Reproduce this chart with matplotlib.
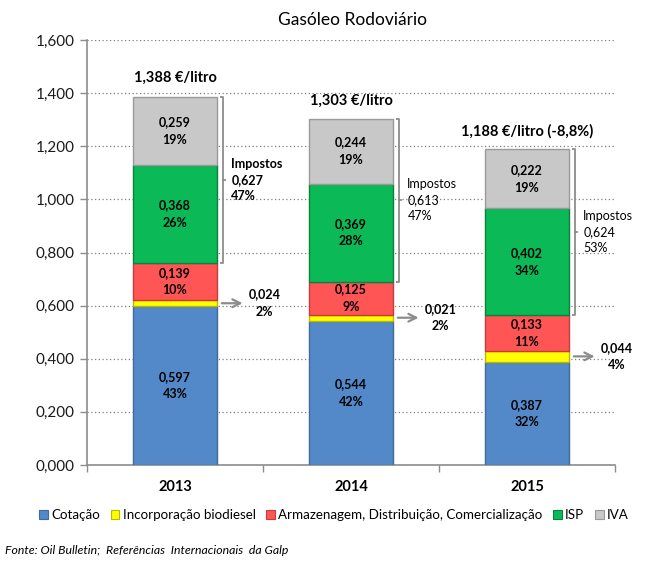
import matplotlib
matplotlib.use("Agg")
import matplotlib.pyplot as plt
from matplotlib.patches import Patch
from matplotlib.ticker import FuncFormatter, FixedLocator
import numpy as np

plt.rcParams['font.family'] = ['Lato', 'DejaVu Sans']

years = ['2013', '2014', '2015']
series_names = ['Cotação', 'Incorporação biodiesel',
                'Armazenagem, Distribuição, Comercialização', 'ISP', 'IVA']
cotacao = [0.597, 0.544, 0.387]
biodiesel = [0.024, 0.021, 0.044]
armazenagem = [0.139, 0.125, 0.133]
isp = [0.368, 0.369, 0.402]
iva = [0.259, 0.244, 0.222]
pct_cotacao = ['43%', '42%', '32%']
pct_biodiesel = ['2%', '2%', '4%']
pct_armazenagem = ['10%', '9%', '11%']
pct_isp = ['26%', '28%', '34%']
pct_iva = ['19%', '19%', '19%']
impostos = [0.627, 0.613, 0.624]
pct_impostos = ['47%', '47%', '53%']
totals = [1.388, 1.303, 1.188]
total_labels = ['1,388 €/litro', '1,303 €/litro', '1,188 €/litro (-8,8%)']
yticks = [0.0, 0.2, 0.4, 0.6, 0.8, 1.0, 1.2, 1.4, 1.6]

colors = ['#5489C9', '#FFFF00', '#FF5555', '#0BB957', '#C8C8C8']
edges = ['#3F6A9E', '#B8B800', '#C43C3C', '#07833D', '#9A9A9A']

def fmt(v):
    return f'{v:.3f}'.replace('.', ',')

fig = plt.figure(figsize=(6.66, 5.65), dpi=100)
ax = fig.add_axes([87/666, 1-465/565, (615-87)/666, 425/565])

x = np.arange(len(years))
w = 0.48
series = [cotacao, biodiesel, armazenagem, isp, iva]
pcts = [pct_cotacao, pct_biodiesel, pct_armazenagem, pct_isp, pct_iva]
bottom = np.zeros(len(years))
for i, (vals, pl) in enumerate(zip(series, pcts)):
    vals = np.array(vals)
    ax.bar(x, vals, w, bottom=bottom, color=colors[i], edgecolor=edges[i],
           linewidth=1.0, zorder=3)
    for j in range(len(years)):
        mid = bottom[j] + vals[j] / 2
        if i == 1:
            ax.annotate('', xy=(x[j] + 0.40, mid), xytext=(x[j] + 0.25, mid),
                        arrowprops=dict(arrowstyle='->', color='#8C8C8C', lw=1.6,
                                        mutation_scale=14), zorder=4)
            ax.text(x[j] + 0.51, mid, fmt(vals[j]) + '\n' + pl[j], ha='center',
                    va='center', fontsize=9, fontweight='bold', linespacing=1.55,
                    zorder=5)
        else:
            ax.text(x[j], mid, fmt(vals[j]) + '\n' + pl[j], ha='center', va='center',
                    fontsize=9, fontweight='bold', linespacing=1.55, zorder=5)
    bottom = bottom + vals

# brackets for Impostos
for j in range(len(years)):
    y0 = cotacao[j] + biodiesel[j] + armazenagem[j]
    y1 = y0 + isp[j] + iva[j]
    bx = x[j] + 0.27
    ax.plot([bx - 0.015, bx, bx, bx - 0.015], [y0, y0, y1, y1],
            color='#8C8C8C', lw=1.3, zorder=4, solid_capstyle='butt')
    ym = (y0 + y1) / 2
    ax.plot([bx, bx + 0.015], [ym, ym], color='#8C8C8C', lw=1.3, zorder=4)
    ax.text(x[j] + 0.32, ym, 'Impostos\n' + fmt(impostos[j]) + '\n' + pct_impostos[j],
            ha='left', va='center', fontsize=9,
            fontweight='bold' if j == 0 else 'normal', linespacing=1.4, zorder=5)

# totals
for j in range(len(years)):
    ax.annotate(total_labels[j], xy=(x[j], totals[j]), xytext=(0, 8),
                textcoords='offset points', ha='center', va='bottom',
                fontsize=10.5, fontweight='bold', zorder=5)

ax.set_xlim(-0.5, 2.5)
ax.set_ylim(0, 1.6)
ax.yaxis.set_major_locator(FixedLocator(yticks))
ax.yaxis.set_major_formatter(FuncFormatter(lambda v, p: f'{v:.3f}'.replace('.', ',')))
ax.set_xticks(x)
ax.set_xticklabels(years, fontweight='bold', fontsize=10.5)
ax.set_xticks([-0.5, 0.5, 1.5, 2.5], minor=True)
ax.tick_params(axis='x', which='major', length=0, pad=11)
ax.tick_params(axis='x', which='minor', length=5, color='#8C8C8C', width=1)
ax.tick_params(axis='y', length=5, color='#8C8C8C', width=1, labelsize=11, pad=4)
for t in ax.get_yticklabels():
    t.set_color('#1a1a1a')
ax.grid(axis='y', linestyle=(0, (1, 2)), color='#808080', lw=0.9, zorder=0)
for s in ['top', 'right']:
    ax.spines[s].set_visible(False)
for s in ['left', 'bottom']:
    ax.spines[s].set_color('#8C8C8C')
    ax.spines[s].set_linewidth(1.2)

fig.text(352/666, 1-20/565, 'Gasóleo Rodoviário', ha='center', va='center', fontsize=12.5)

handles = [Patch(facecolor=c, edgecolor=e, lw=0.8) for c, e in zip(colors, edges)]
fig.legend(handles, series_names, loc='center', bbox_to_anchor=(334/666, 1-515/565),
           ncol=5, frameon=False, fontsize=9.6, handlelength=0.65, handleheight=0.65,
           handletextpad=0.25, columnspacing=0.8)

fig.text(5/666, 1-551/565, 'Fonte: Oil Bulletin;  Referências  Internacionais  da Galp',
         ha='left', va='center', fontsize=8.8, style='italic')

fig.savefig('out.png', dpi=100)
